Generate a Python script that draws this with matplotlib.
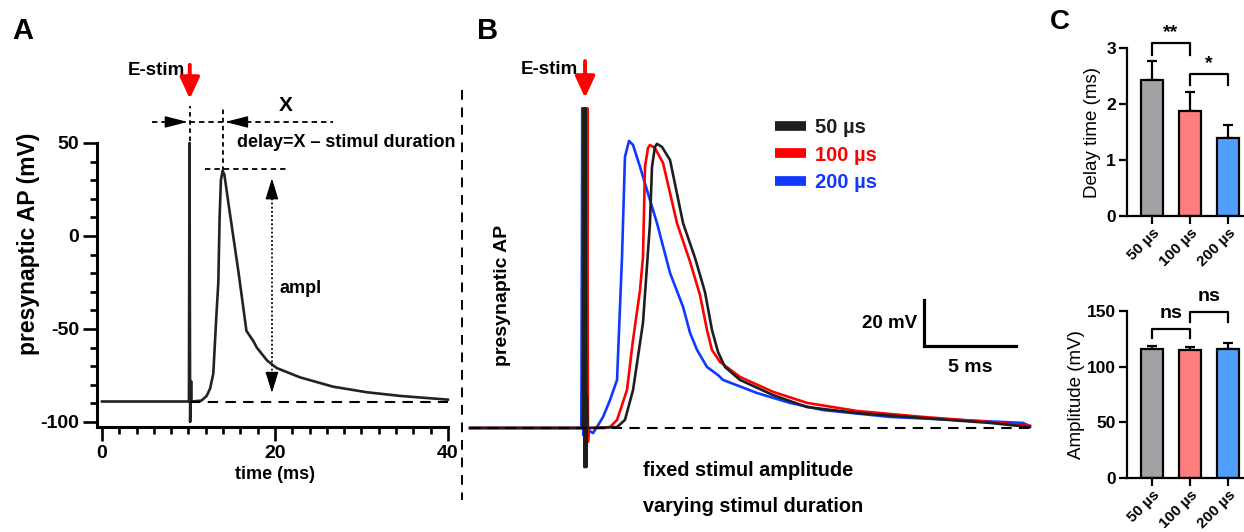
import matplotlib
matplotlib.use('Agg')
import matplotlib.pyplot as plt
from matplotlib.lines import Line2D

W, H = 1244, 532
SANS = ['Liberation Sans', 'DejaVu Sans']
plt.rcParams['font.family'] = SANS
plt.rcParams['axes.unicode_minus'] = False

# ---- panel A: single presynaptic AP (time in ms, membrane potential in mV)
A_T = [0, 10.05, 10.12, 10.19, 10.25, 10.3, 10.35, 10.4, 11.5, 12.1, 12.5, 12.87, 13.2,
       13.45, 13.6, 13.75, 13.95, 14.15, 14.7, 15.8, 16.7, 17.5, 17.9, 19.1, 20.2,
       22.9, 26.7, 30.6, 34.5, 40]
A_V = [-89, -89, 50, -100, -89, -78, -89, -89, -88.5, -86, -82, -74, -45,
       -25, 10, 30, 35, 33, 15, -20, -51, -56.5, -60, -67, -71,
       -76, -81, -84, -86, -88]
A_BASELINE = -89
A_STIM_T = 10.15
A_PEAK_T = 13.95
A_PEAK_V = 35

# ---- panel B: APs for three stimulus durations
B_T_50 = [3.75, 9.88, 9.92, 9.97, 10.02, 10.07, 10.1, 10.14, 11.74, 12.17, 12.61, 13.15,
          13.53, 13.64, 13.8, 13.91, 14.18, 14.62, 15.33, 15.98, 16.52, 16.9, 17.23,
          17.61, 18.42, 20.22, 22.07, 24.78, 28.37, 32.01, 34.18]
B_V_50 = [-89, -89, 50, -106, 50, -106, -75, -89, -88.6, -85.5, -72.5, -43.3,
          0, 24.5, 33.2, 34.5, 33.2, 27.5, 0, -15.1, -29.9, -46.4, -56,
          -62.5, -68.1, -74.7, -79.9, -82.5, -84.7, -86.8, -88.6]
B_T_100 = [3.75, 10.06, 10.12, 10.16, 10.2, 11.1, 11.36, 11.74, 12.28, 12.61, 12.99,
           13.15, 13.26, 13.42, 13.53, 13.8, 14.24, 15.0, 15.71, 16.25, 16.63, 16.9,
           17.34, 18.42, 20.22, 22.07, 24.78, 28.37, 32.01, 34.18]
B_V_100 = [-89, -89, 50, -95, -89, -89, -88.6, -85.5, -72.5, -50.7, -29,
           -14.7, 24.5, 32.7, 34, 32.7, 26.2, 0, -16.8, -31.2, -46.4, -55.1,
           -60.3, -66.8, -73.3, -78.1, -81.6, -84.2, -86.4, -88.1]
B_T_200 = [3.75, 9.8, 9.85, 9.9, 9.95, 10.43, 10.65, 10.98, 11.36, 11.74, 12.01, 12.17,
           12.39, 12.61, 12.99, 13.53, 13.91, 14.62, 15.33, 15.71, 16.09, 16.63, 17.23,
           17.5, 19.35, 21.14, 22.93, 26.58, 30.22, 33.8, 34.18]
B_V_200 = [-89, -89, 50, -92, -89, -91.2, -88.6, -84.2, -76.8, -68.1, -14.7, 28.8,
           35.8, 34, 24.5, 10.1, 0.1, -21.6, -36.4, -47.7, -55.1, -62.5, -66,
           -68.1, -73.8, -78.1, -81.2, -84.2, -85.5, -86.8, -88.1]
B_BASELINE = -89
B_STIM_T = 10.0
SCALE_MS = 5
SCALE_MV = 20

# ---- panel C: summary bars
DURATIONS = ['50 µs', '100 µs', '200 µs']
DELAY_MEAN = [2.42, 1.87, 1.40]
DELAY_SEM = [0.34, 0.35, 0.22]
AMP_MEAN = [116, 115, 116]
AMP_SEM = [2.5, 3.0, 5.0]
BAR_COLORS = ['#a2a2a6', '#ff7d7d', '#4f9fff']
TRACE_COLORS = ['#1e1e1e', '#ff0000', '#1038ff']


def rect(left, top, right, bottom):
    return [left / W, 1 - bottom / H, (right - left) / W, (bottom - top) / H]


def head(ax, tip, base, scale=20, hl=0.7, hw=0.18, color='k'):
    ax.annotate('', xy=tip, xytext=base,
                arrowprops=dict(arrowstyle=f'-|>,head_length={hl},head_width={hw}',
                                mutation_scale=scale, lw=1, color=color,
                                shrinkA=0, shrinkB=0))


fig = plt.figure(figsize=(W / 100, H / 100), dpi=100)

# ================= panel A =================
ax = fig.add_axes(rect(97, 60, 460, 427))
ax.set_xlim(-0.58, 41.4)
ax.set_ylim(-102.7, 94.6)
ax.plot(A_T, A_V, color='#222222', lw=1.9, solid_joinstyle='round', zorder=3)
ax.plot([A_STIM_T, 40], [A_BASELINE, A_BASELINE], color='k', lw=1.5,
        ls=(0, (5, 3.5)), zorder=4)
for s in ['top', 'right']:
    ax.spines[s].set_visible(False)
ax.spines['left'].set_bounds(-102.7, 50)
ax.spines['bottom'].set_bounds(-0.58, 40)
for s in ['left', 'bottom']:
    ax.spines[s].set_linewidth(2.2)
ax.set_yticks([-100, -50, 0, 50])
ax.set_yticks(range(-100, 51, 10), minor=True)
ax.set_xticks([0, 20, 40])
ax.set_xticks(range(0, 41, 2), minor=True)
ax.tick_params(which='major', length=10, width=1.9, labelsize=14, pad=3)
ax.tick_params(which='minor', length=5, width=1.9)
for lab in ax.get_xticklabels() + ax.get_yticklabels():
    lab.set_fontweight('bold')
ax.set_ylabel('presynaptic AP (mV)', fontsize=16.5, fontweight='bold', labelpad=0)
ax.set_xlabel('time (ms)', fontsize=13, fontweight='bold')
ax.xaxis.set_label_coords(20.58 / 41.98, -0.105)

# annotations of panel A
xline = 61.3
ax.plot([A_STIM_T, A_STIM_T], [51, 70], color='k', lw=1.3, ls=(0, (2.5, 2)))
ax.plot([A_PEAK_T, A_PEAK_T], [A_PEAK_V, 70], color='k', lw=1.3, ls=(0, (2.5, 2)))
ax.plot([5.8, 26.7], [xline, xline], color='k', lw=1.3, ls=(0, (3, 2.2)))
head(ax, (A_STIM_T - 0.25, xline), (A_STIM_T - 2.6, xline))
head(ax, (A_PEAK_T + 0.3, xline), (A_PEAK_T + 2.9, xline))
ax.text(21.3, 69.9, 'X', fontsize=15, fontweight='bold', ha='center', va='center')
ax.text(15.6, 50, 'delay=X – stimul duration', fontsize=13, fontweight='bold',
        ha='left', va='center')
ax.plot([11.9, 21.4], [A_PEAK_V + 1, A_PEAK_V + 1], color='k', lw=1.3,
        ls=(0, (3, 2.2)))
amp_t = 19.65
ax.plot([amp_t, amp_t], [A_PEAK_V - 8, A_BASELINE + 9], color='k', lw=1.3,
        ls=(0, (1, 1.3)))
head(ax, (amp_t, A_PEAK_V - 4), (amp_t, A_PEAK_V - 14), hl=0.65, hw=0.2)
head(ax, (amp_t, A_BASELINE + 4.6), (amp_t, A_BASELINE + 14.4), hl=0.65, hw=0.2)
ax.text(20.5, -28, 'ampl', fontsize=13, fontweight='bold', ha='left', va='center')
ax.text(9.6, 88.7, 'E-stim', fontsize=13.5, fontweight='bold', ha='right', va='center')
ax.annotate('', xy=(A_STIM_T, 73.7), xytext=(A_STIM_T, 92),
            arrowprops=dict(arrowstyle='-|>,head_length=0.65,head_width=0.3',
                            mutation_scale=20, lw=2.8, color='#ff0000',
                            shrinkA=0, shrinkB=0), annotation_clip=False)

# separator between A and B
fig.add_artist(Line2D([462 / W, 462 / W], [1 - 90 / H, 1 - 500 / H], color='k',
                      lw=1.4, ls=(0, (5, 4))))

# ================= panel B =================
bx = fig.add_axes(rect(466, 50, 1040, 520))
bx.set_xlim(3.53, 34.73)
bx.set_ylim(-129, 75.3)
bx.axis('off')
series = [(B_T_200, B_V_200), (B_T_100, B_V_100), (B_T_50, B_V_50)]
colors_plot = [TRACE_COLORS[2], TRACE_COLORS[1], TRACE_COLORS[0]]
for (t, v), c in zip(series, colors_plot):
    bx.plot(t, v, color=c, lw=1.9, solid_joinstyle='round', clip_on=False)
bx.plot([3.75, 34.18], [B_BASELINE, B_BASELINE], color='k', lw=1.5,
        ls=(0, (5, 3.5)), zorder=5)

# scale bar
sb_t, sb_v = 28.42, -53.3
bx.plot([sb_t, sb_t, sb_t + SCALE_MS], [sb_v + SCALE_MV, sb_v, sb_v], color='k',
        lw=2.3, solid_joinstyle='miter')
bx.text(sb_t - 0.35, sb_v + 9.5, f'{SCALE_MV} mV', fontsize=13.5, fontweight='bold',
        ha='right', va='center')
bx.text(sb_t + 2.5, sb_v - 9.2, f'{SCALE_MS} ms', fontsize=14, fontweight='bold',
        ha='center', va='center')

bx.text(5.54, -31.2, 'presynaptic AP', fontsize=14, fontweight='bold', rotation=90,
        ha='center', va='center')
bx.text(13.15, -107.3, 'fixed stimul amplitude', fontsize=14.3, fontweight='bold',
        ha='left', va='center')
bx.text(13.15, -123.3, 'varying stimul duration', fontsize=14.3, fontweight='bold',
        ha='left', va='center')
bx.text(9.62, 66.7, 'E-stim', fontsize=13.5, fontweight='bold', ha='right', va='center')
bx.annotate('', xy=(B_STIM_T, 54.5), xytext=(B_STIM_T, 70.5),
            arrowprops=dict(arrowstyle='-|>,head_length=0.65,head_width=0.3',
                            mutation_scale=20, lw=2.8, color='#ff0000',
                            shrinkA=0, shrinkB=0), annotation_clip=False)

handles = [Line2D([], [], color=c, lw=7, solid_capstyle='butt') for c in TRACE_COLORS]
leg = bx.legend(handles, DURATIONS, loc='upper left', bbox_to_anchor=(767 / W, 1 - 110 / H),
                bbox_transform=fig.transFigure, frameon=False, handlelength=1.55,
                handletextpad=0.45, labelspacing=0.42, borderaxespad=0,
                prop=dict(weight='bold', size=14.5), labelcolor='linecolor')


# ================= panel C =================
def bar_panel(box, means, sems, ylim, yticks, ylabel, brackets, labelpad):
    cx = fig.add_axes(rect(*box))
    x = range(len(means))
    cx.bar(x, means, width=0.6, color=BAR_COLORS, edgecolor='k', linewidth=1.6, zorder=2)
    cx.errorbar(x, means, yerr=[[0] * len(sems), sems], fmt='none', ecolor='k',
                elinewidth=1.6, capsize=3.5, capthick=1.6, zorder=1)
    cx.set_xlim(-0.66, 2.42)
    cx.set_ylim(*ylim)
    cx.set_yticks(yticks)
    for s in ['top', 'right']:
        cx.spines[s].set_visible(False)
    for s in ['left', 'bottom']:
        cx.spines[s].set_linewidth(1.6)
    cx.tick_params(length=6, width=1.6, labelsize=12.5, pad=2)
    cx.tick_params(axis='x', labelsize=11, pad=1)
    cx.set_xticks(list(x))
    cx.set_xticklabels(DURATIONS, rotation=45, ha='right', rotation_mode='anchor',
                       fontweight='bold')
    for lab in cx.get_yticklabels():
        lab.set_fontweight('bold')
    cx.set_ylabel(ylabel, fontsize=13.5, labelpad=labelpad)
    for x0, x1, top, leg_len, label, ty in brackets:
        cx.plot([x0, x0, x1, x1], [top - leg_len, top, top, top - leg_len], color='k',
                lw=1.6, clip_on=False)
        cx.text((x0 + x1) / 2, ty, label, fontsize=14, fontweight='bold',
                ha='center', va='center')
    return cx


bar_panel((1127, 48, 1244, 216), DELAY_MEAN, DELAY_SEM, (0, 3), [0, 1, 2, 3],
          'Delay time (ms)',
          [(0, 1, 3.09, 0.21, '**', 3.27), (1, 2, 2.54, 0.2, '*', 2.72)], 4)
bar_panel((1127, 311, 1244, 478), AMP_MEAN, AMP_SEM, (0, 150), [0, 50, 100, 150],
          'Amplitude (mV)',
          [(0, 1, 133.8, 8, 'ns', 148), (1, 2, 149.1, 9, 'ns', 162.6)], 1)

# panel letters
fig.text(12 / W, 1 - 31 / H, 'A', fontsize=21, fontweight='bold', va='center')
fig.text(477 / W, 1 - 31 / H, 'B', fontsize=21, fontweight='bold', va='center')
fig.text(1050 / W, 1 - 22 / H, 'C', fontsize=20, fontweight='bold', va='center')

fig.savefig('out.png', dpi=100)
